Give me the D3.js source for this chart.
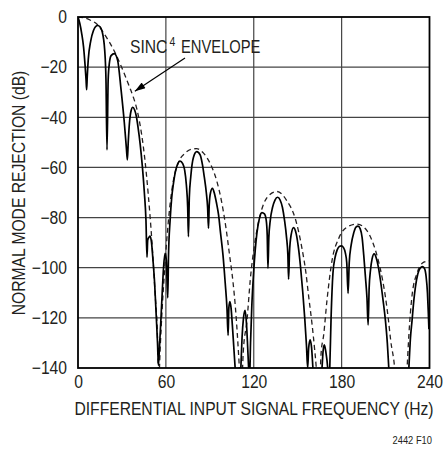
<!DOCTYPE html>
<html>
<head>
<meta charset="utf-8">
<script src="https://cdn.jsdelivr.net/npm/d3@7.9.0/dist/d3.min.js"></script>
<style>
  html, body { margin: 0; padding: 0; background: #fff; }
  svg { display: block; }
  text { font-family: "Liberation Sans", Arial, sans-serif; fill: #231f20; }
</style>
</head>
<body>
<svg id="chart" width="445" height="450"></svg>
<script>
// Tick values
const xTicks = [0, 60, 120, 180, 240];
const yTicks = [0, -20, -40, -60, -80, -100, -120, -140];

const responseFreq = [
  0, 1.2, 2.5, 3.8, 4.8, 5.5, 5.9, 6.3, 7, 8.7, 10.5, 12, 13.5, 15, 16.5, 18.2, 19.1, 19.8, 20.6, 21.4,
  22.6, 24.8, 27.1, 29.4, 31.6, 33, 33.7, 34.3, 35.1, 36.2, 37.4, 38.6, 39.8, 41, 42.5, 44, 45.3, 46.4, 47.1, 47.6,
  48.5, 49.2, 50.2, 51.2, 52.3, 53.4, 54.3, 54.9, 55.6, 56.5, 57.5, 58.4, 59.4, 60.3, 61.3, 61.8, 62.9, 64, 65.2, 66.4,
  67.5, 69.7, 71.5, 72.8, 74, 74.9, 75.4, 76, 77, 78.8, 81.1, 83.4, 85, 86.2, 87.6, 88.5, 89.1, 89.6, 90.5, 91.8,
  93.2, 94.5, 96, 97.3, 99, 100.5, 101.7, 102.5, 103, 103.7, 104.5, 105.4, 106.3, 107.3, 109.2, 111.2, 112, 113, 114.1, 115,
  115.8, 116.5, 117.1, 117.8, 118.7, 119.9, 121, 122.2, 123.8, 125.6, 127.3, 128.5, 129.2, 129.7, 130.3, 131.3, 132.8, 134.5, 136.3, 138,
  139.6, 141, 142.4, 143.3, 143.8, 144.4, 145.5, 147.2, 149, 150.5, 152, 153.5, 154.8, 156, 156.8, 157.5, 158.5, 159.5, 160.4, 163.5,
  166.6, 167.4, 168.2, 169.2, 170.5, 171.2, 171.9, 172.8, 174.1, 175.5, 176.9, 178.4, 179.8, 181.3, 182.5, 183.5, 184.4, 185.2, 186.5, 188.3,
  189.8, 191.2, 192.7, 194, 195.1, 196.3, 197.3, 198.1, 198.8, 199.7, 200.8, 202.2, 203.6, 205, 206.5, 208.3, 209.9, 211.2, 212.2, 219,
  225.9, 227, 228.1, 229.3, 230.4, 232, 233.5, 235.3, 236.7, 237.7, 238.6, 239.2, 239.6
];
const responseDb = [
  0, -2.5, -6.5, -12, -19, -25, -29, -24, -17, -9.5, -5.5, -3.8, -3.4, -3.9, -5.8, -13, -25, -53, -25, -18.5,
  -15.4, -14.6, -17.4, -29, -42, -52, -57, -50, -42.5, -37.5, -36, -37, -39.5, -44, -51, -60, -70, -81, -95.8, -89,
  -87.8, -87.4, -90, -97, -106, -119, -130, -139, -132, -122, -110, -100, -94.3, -97, -112, -95, -81, -72, -66.3, -62,
  -59.5, -57.5, -58.5, -61, -67, -76, -87.6, -72, -63.7, -56, -53.7, -55, -59, -63.7, -70, -76, -84.3, -75, -70, -68.3,
  -70.5, -74, -79, -86, -95, -106, -116, -127, -116, -113.5, -116, -123, -131, -140, -157, -140, -128, -120, -117, -122,
  -131, -140, -146, -130, -115, -102, -93, -86, -80.5, -78, -78.5, -81, -87, -100.2, -88, -81, -76, -73, -71.9, -73,
  -76, -81, -88, -95, -104.6, -94, -87, -84, -86.5, -92, -100, -110, -120, -131, -140, -132, -128.8, -132, -140, -165,
  -140, -133, -130.8, -133.5, -140, -147, -140, -120, -102, -96, -93, -91.5, -91.3, -92, -94, -98, -110.2, -98, -91, -86,
  -83.8, -83.4, -84.5, -88, -95, -104, -112, -122.8, -108, -101, -96.5, -94.5, -96, -99.5, -105, -113, -121, -130, -140, -200,
  -140, -128, -121, -113, -107.6, -102.5, -100.3, -99.6, -100.5, -103.6, -110, -118, -124.5
];

// Sinc^4 envelope (Hz, dB)
const envelopeFreq = [
  0, 4, 8.5, 13, 17.3, 21.4, 25.3, 28.7, 32.1, 35.1, 37.8, 40.1, 41.9, 43.5, 45.5, 48, 50.4, 52.6, 54.2, 55.1,
  56.2, 57.5, 59, 60.6, 62.9, 65.2, 68.6, 73.2, 77, 81, 85.7, 90.3, 94.8, 98, 101, 103.5, 105.8, 107.5, 109.8, 111.4,
  112.8, 115.4, 117.6, 121, 125.6, 130.1, 135.8, 142.6, 148.4, 153, 155.5, 157.5, 159.7, 161.4, 162.7, 164.3,
  166, 167.7, 170, 173.5, 178, 183.7, 190.5, 197.4, 201, 205, 208, 210, 211.8, 213.5, 216.2, 220.5,
  224.7, 225.9, 228.1, 231.6, 236.1, 240
];
const envelopeDb = [
  0, -0.3, -1.3, -2.9, -6.2, -10, -14.2, -18.6, -23.3, -27.8, -32, -36.5, -41.5, -47, -56, -71, -89, -110, -126, -145,
  -131, -116, -102, -89, -74.5, -65, -58, -54.3, -52.8, -52.5, -54.3, -58.5, -65.5, -73.5, -84, -95, -105.5, -116, -136, -152,
  -134, -121, -105, -89, -76.5, -71.3, -69.6, -73.3, -80.5, -92.5, -101.5, -111.5, -122, -131.5, -140, -155,
  -134, -127, -113, -97, -88.3, -83.8, -82.6, -85.3, -89.5, -97, -105, -112, -120, -129, -140, -185,
  -140, -127, -111, -102, -97.8, -97.2
];

const responseData = responseFreq.map((f, i) => ({ f, db: responseDb[i] }));
const envelopeData = envelopeFreq.map((f, i) => ({ f, db: envelopeDb[i] }));

const svg = d3.select('#chart');
const plotLeft = 78, plotRight = 429.5, plotTop = 17, plotBottom = 368;
const squeeze = 0.87; // the original uses a condensed face

const x = d3.scaleLinear().domain([0, 240]).range([plotLeft, plotRight]);
const y = d3.scaleLinear().domain([-140, 0]).range([plotBottom, plotTop]);

// horizontal squeeze that keeps the text anchor where it was
function narrow(sel, k, pre = '') {
  sel.each(function () {
    const t = d3.select(this);
    const x0 = +t.attr('x') || 0;
    t.attr('transform', `${pre} translate(${x0 * (1 - k)},0) scale(${k},1)`);
  });
}

// clip for the curves
svg.append('clipPath').attr('id', 'plot-clip')
  .append('rect')
  .attr('x', plotLeft).attr('y', plotTop)
  .attr('width', plotRight - plotLeft).attr('height', plotBottom - plotTop);

// grid
const grid = svg.append('g').attr('stroke', '#444').attr('stroke-width', 1.2);
xTicks.slice(1, -1).forEach(v => {
  grid.append('line')
    .attr('x1', x(v)).attr('x2', x(v))
    .attr('y1', plotTop).attr('y2', plotBottom);
});
yTicks.slice(1, -1).forEach(v => {
  grid.append('line')
    .attr('x1', plotLeft).attr('x2', plotRight)
    .attr('y1', y(v)).attr('y2', y(v));
});

// curves
const line = d3.line()
  .x(d => x(d.f))
  .y(d => y(d.db))
  .curve(d3.curveMonotoneX);

const curves = svg.append('g').attr('clip-path', 'url(#plot-clip)');

curves.append('path')
  .attr('d', line(envelopeData))
  .attr('fill', 'none')
  .attr('stroke', '#231f20')
  .attr('stroke-width', 1.3)
  .attr('stroke-dasharray', '5,3.5');

curves.append('path')
  .attr('d', line(responseData))
  .attr('fill', 'none')
  .attr('stroke', '#000')
  .attr('stroke-width', 1.7)
  .attr('stroke-linejoin', 'round');

// frame
svg.append('rect')
  .attr('x', plotLeft).attr('y', plotTop)
  .attr('width', plotRight - plotLeft).attr('height', plotBottom - plotTop)
  .attr('fill', 'none')
  .attr('stroke', '#000')
  .attr('stroke-width', 1.8);

// axes labels
const xAxis = d3.axisBottom(x).tickValues(xTicks).tickSize(0).tickPadding(7).tickFormat(d3.format('d'));
const yAxis = d3.axisLeft(y).tickValues(yTicks).tickSize(0).tickPadding(11).tickFormat(d3.format('d'));

const gx = svg.append('g').attr('transform', `translate(0,${plotBottom})`).call(xAxis);
const gy = svg.append('g').attr('transform', `translate(${plotLeft},0)`).call(yAxis);
[gx, gy].forEach(g => {
  g.select('.domain').remove();
  g.selectAll('text')
    .attr('font-size', 18)
    .attr('font-family', null)
    .attr('fill', '#231f20');
  narrow(g.selectAll('text'), squeeze);
});

const xTitle = svg.append('text')
  .attr('x', 254).attr('y', 415)
  .attr('text-anchor', 'middle')
  .attr('font-size', 18)
  .text('DIFFERENTIAL INPUT SIGNAL FREQUENCY (Hz)');
narrow(xTitle, squeeze);

const yTitle = svg.append('text')
  .attr('text-anchor', 'middle')
  .attr('font-size', 18)
  .text('NORMAL MODE REJECTION (dB)');
narrow(yTitle, squeeze, 'translate(25,193) rotate(-90)');

const code = svg.append('text')
  .attr('x', 432).attr('y', 444)
  .attr('text-anchor', 'end')
  .attr('font-size', 11)
  .text('2442 F10');
narrow(code, 0.85);

// annotation
const sinc = svg.append('text').attr('x', 130).attr('y', 53).attr('font-size', 18).text('SINC');
const sup = svg.append('text').attr('x', 169.5).attr('y', 46).attr('font-size', 12).text('4');
const env = svg.append('text').attr('x', 181).attr('y', 53).attr('font-size', 18).text('ENVELOPE');
narrow(sinc, squeeze);
narrow(sup, squeeze);
narrow(env, 0.82);

svg.append('defs').append('marker')
  .attr('id', 'arrow')
  .attr('viewBox', '0 0 12 8')
  .attr('refX', 12).attr('refY', 4)
  .attr('markerWidth', 12).attr('markerHeight', 7)
  .attr('markerUnits', 'userSpaceOnUse')
  .attr('orient', 'auto')
  .append('path')
  .attr('d', 'M0,0 L12,4 L0,8 Z')
  .attr('fill', '#000');

svg.append('line')
  .attr('x1', 185).attr('y1', 58)
  .attr('x2', x(38.8)).attr('y2', y(-29.6))
  .attr('stroke', '#000')
  .attr('stroke-width', 1.2)
  .attr('marker-end', 'url(#arrow)');
</script>
</body>
</html>
